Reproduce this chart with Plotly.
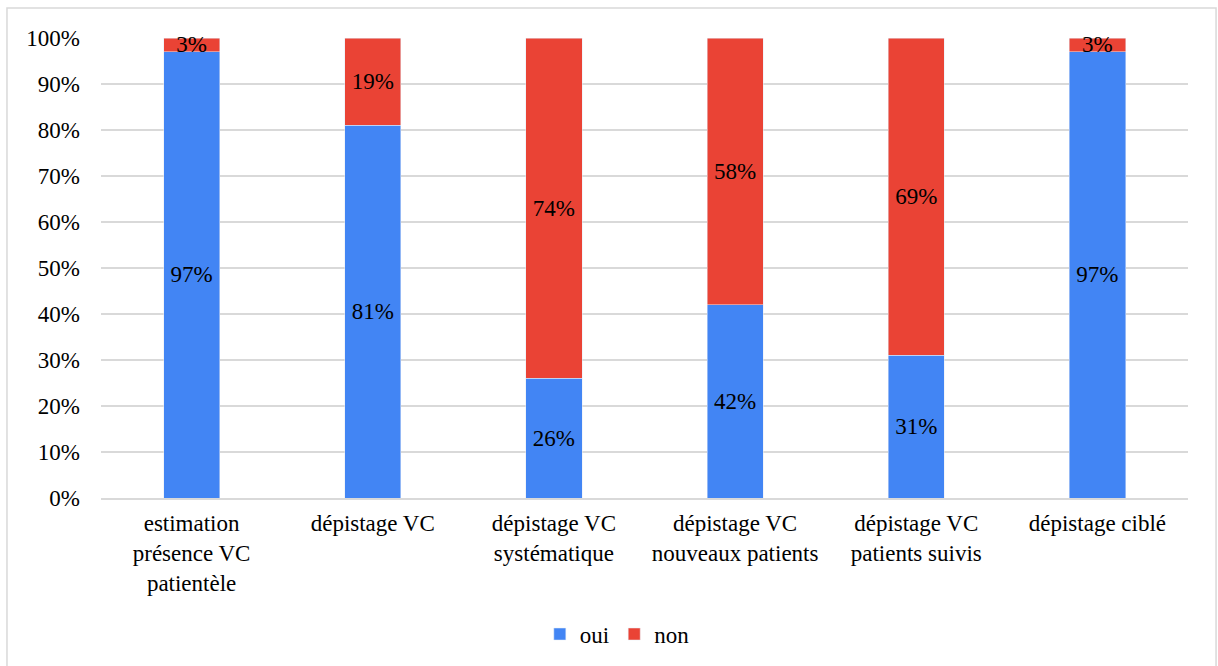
import plotly.graph_objects as go

categories = [
    "estimation<br>présence VC<br>patientèle",
    "dépistage VC",
    "dépistage VC<br>systématique",
    "dépistage VC<br>nouveaux patients",
    "dépistage VC<br>patients suivis",
    "dépistage ciblé",
]
oui = [97, 81, 26, 42, 31, 97]
non = [3, 19, 74, 58, 69, 3]
y_ticks = list(range(0, 101, 10))

FONT = "'Liberation Serif', Tinos, 'Times New Roman', serif"
SIZE = 23
BLUE = "#4285F4"
RED = "#EA4335"

fig = go.Figure()
fig.add_trace(go.Bar(
    x=categories, y=oui, name="oui", marker_color=BLUE,
    text=[f"{v}%" for v in oui], textposition="inside",
    insidetextanchor="middle", constraintext="none", cliponaxis=False,
    textfont=dict(color="black", size=SIZE, family=FONT),
))
fig.add_trace(go.Bar(
    x=categories, y=non, name="non", marker_color=RED,
    text=[f"{v}%" for v in non], textposition="inside",
    insidetextanchor="middle", constraintext="none", cliponaxis=False,
    textfont=dict(color="black", size=SIZE, family=FONT),
))

fig.update_layout(
    barmode="stack",
    bargap=0.69,
    width=1218, height=666,
    margin=dict(l=101, r=30, t=38, b=167),
    paper_bgcolor="white", plot_bgcolor="white",
    font=dict(family=FONT, size=SIZE, color="black"),
    uniformtext=dict(minsize=SIZE, mode="show"),
    showlegend=True,
    legend=dict(orientation="h", x=0.475, xanchor="center", y=-0.293, yanchor="middle",
                font=dict(size=SIZE, family=FONT), itemwidth=30, traceorder="normal"),
    yaxis=dict(range=[0, 100], tickvals=y_ticks, ticktext=[f"{v}%" for v in y_ticks],
               showgrid=True, gridcolor="#d9d9d9", gridwidth=1.5, zeroline=False,
               ticks="", ticklen=0, showline=False, ticklabelstandoff=20),
    xaxis=dict(showline=True, linecolor="#d9d9d9", linewidth=1.5, ticks="",
               tickangle=0, showgrid=False, ticklabelstandoff=4),
    shapes=[dict(type="rect", xref="paper", yref="paper",
                 x0=-0.0865, x1=1.0258, y0=-0.38, y1=1.065,
                 line=dict(color="#d9d9d9", width=1.5), fillcolor="rgba(0,0,0,0)",
                 layer="below")],
)

fig.write_html("out.html")
